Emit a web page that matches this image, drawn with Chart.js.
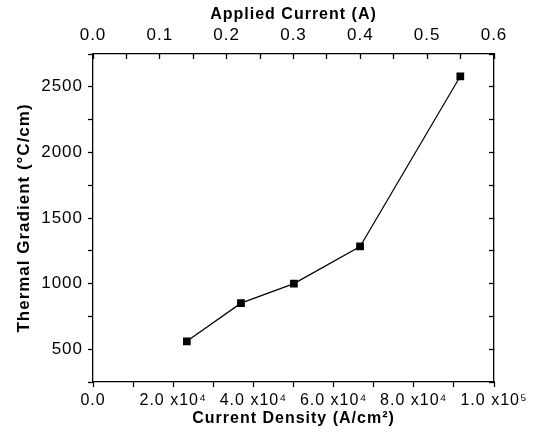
<!DOCTYPE html>
<html>
<head>
<meta charset="utf-8">
<script src="https://cdn.jsdelivr.net/npm/chart.js@4"></script>
<style>
  body { margin: 0; background: #fff; }
  #wrap { width: 537px; height: 436px; }
</style>
</head>
<body>
<div id="wrap"><canvas id="chart"></canvas></div>
<script>
// data
const appliedCurrent = [0.14, 0.22, 0.30, 0.40, 0.55];       // A
const currentDensity = [23400, 36900, 50100, 66600, 91600];  // A/cm2
const thermalGradient = [560, 851, 1000, 1283, 2580];        // °C/cm

// tick positions (major + minor)
const densityTicks = [0, 10000, 20000, 30000, 40000, 50000, 60000, 70000, 80000, 90000, 100000];
const densityLabels = ['0.0', '', '2.0 x10⁴', '', '4.0 x10⁴', '', '6.0 x10⁴', '', '8.0 x10⁴', '', '1.0 x10⁵'];
const currentTicks = [0, 0.05, 0.1, 0.15, 0.2, 0.25, 0.3, 0.35, 0.4, 0.45, 0.5, 0.55, 0.6];
const currentLabels = ['0.0', '', '0.1', '', '0.2', '', '0.3', '', '0.4', '', '0.5', '', '0.6'];
const gradientTicks = [250, 500, 750, 1000, 1250, 1500, 1750, 2000, 2250, 2500, 2750];
const gradientLabels = ['', '500', '', '1000', '', '1500', '', '2000', '', '2500', ''];

const FONT = "'Liberation Sans', Arial, sans-serif";

function setTicks(values) {
    return scale => { scale.ticks = values.map(v => ({ value: v })); };
}
function fixSize(prop, size) {
    return scale => { scale[prop] = size; };
}

// the original uses slightly spaced-out lettering
const spacing = {
    id: 'spacing',
    beforeUpdate: chart => { chart.ctx.letterSpacing = '1px'; },
    beforeDraw: chart => { chart.ctx.letterSpacing = '1px'; }
};

const points = currentDensity.map((d, i) => ({ x: d, y: thermalGradient[i] }));

new Chart(document.getElementById('chart').getContext('2d'), {
    type: 'line',
    plugins: [spacing],
    data: {
        datasets: [{
            label: 'Thermal Gradient',
            data: points,
            xAxisID: 'x',
            yAxisID: 'y',
            borderColor: '#000',
            backgroundColor: '#000',
            borderWidth: 1.2,
            pointStyle: 'rect',
            pointRadius: 4.6,
            pointHoverRadius: 4.6,
            tension: 0
        }]
    },
    options: {
        responsive: true,
        maintainAspectRatio: false,
        animation: false,
        layout: { padding: 0 },
        plugins: {
            legend: { display: false },
            tooltip: { enabled: false }
        },
        scales: {
            x: {
                type: 'linear',
                position: 'bottom',
                min: 0,
                max: 100000,
                afterBuildTicks: setTicks(densityTicks),
                afterFit: fixSize('height', 54),
                border: { color: '#000', width: 1.3 },
                grid: { drawOnChartArea: false, tickLength: 5, tickColor: '#000', tickWidth: 1.3 },
                ticks: {
                    autoSkip: false,
                    maxRotation: 0,
                    padding: 4,
                    color: '#000',
                    font: { family: FONT, size: 16 },
                    callback: (v, i) => densityLabels[i]
                },
                title: {
                    display: true,
                    text: 'Current Density (A/cm²)',
                    color: '#000',
                    font: { family: FONT, size: 16, weight: 'bold' },
                    padding: { top: 0, bottom: 8 }
                }
            },
            x2: {
                type: 'linear',
                position: 'top',
                min: 0,
                max: 0.6,
                afterBuildTicks: setTicks(currentTicks),
                afterFit: fixSize('height', 54),
                border: { color: '#000', width: 1.3 },
                grid: { drawOnChartArea: false, tickLength: -5, tickColor: '#000', tickWidth: 1.3 },
                ticks: {
                    autoSkip: false,
                    maxRotation: 0,
                    padding: 13,
                    color: '#000',
                    font: { family: FONT, size: 17 },
                    callback: (v, i) => currentLabels[i]
                },
                title: {
                    display: true,
                    text: 'Applied Current (A)',
                    color: '#000',
                    font: { family: FONT, size: 16, weight: 'bold' },
                    padding: { top: 5, bottom: 0 }
                }
            },
            y: {
                type: 'linear',
                position: 'left',
                min: 250,
                max: 2750,
                afterBuildTicks: setTicks(gradientTicks),
                afterFit: fixSize('width', 93),
                border: { color: '#000', width: 1.3 },
                grid: { drawOnChartArea: false, tickLength: 5, tickColor: '#000', tickWidth: 1.3 },
                ticks: {
                    autoSkip: false,
                    padding: 5,
                    color: '#000',
                    font: { family: FONT, size: 17 },
                    callback: (v, i) => gradientLabels[i]
                },
                title: {
                    display: true,
                    text: 'Thermal Gradient (°C/cm)',
                    color: '#000',
                    font: { family: FONT, size: 17, weight: 'bold' },
                    padding: { top: 14, bottom: 0 }
                }
            },
            y2: {
                type: 'linear',
                position: 'right',
                min: 250,
                max: 2750,
                afterBuildTicks: setTicks(gradientTicks),
                afterFit: fixSize('width', 43),
                border: { color: '#000', width: 1.3 },
                grid: { drawOnChartArea: false, tickLength: -5, tickColor: '#000', tickWidth: 1.3 },
                ticks: { display: false }
            }
        }
    }
});
</script>
</body>
</html>
